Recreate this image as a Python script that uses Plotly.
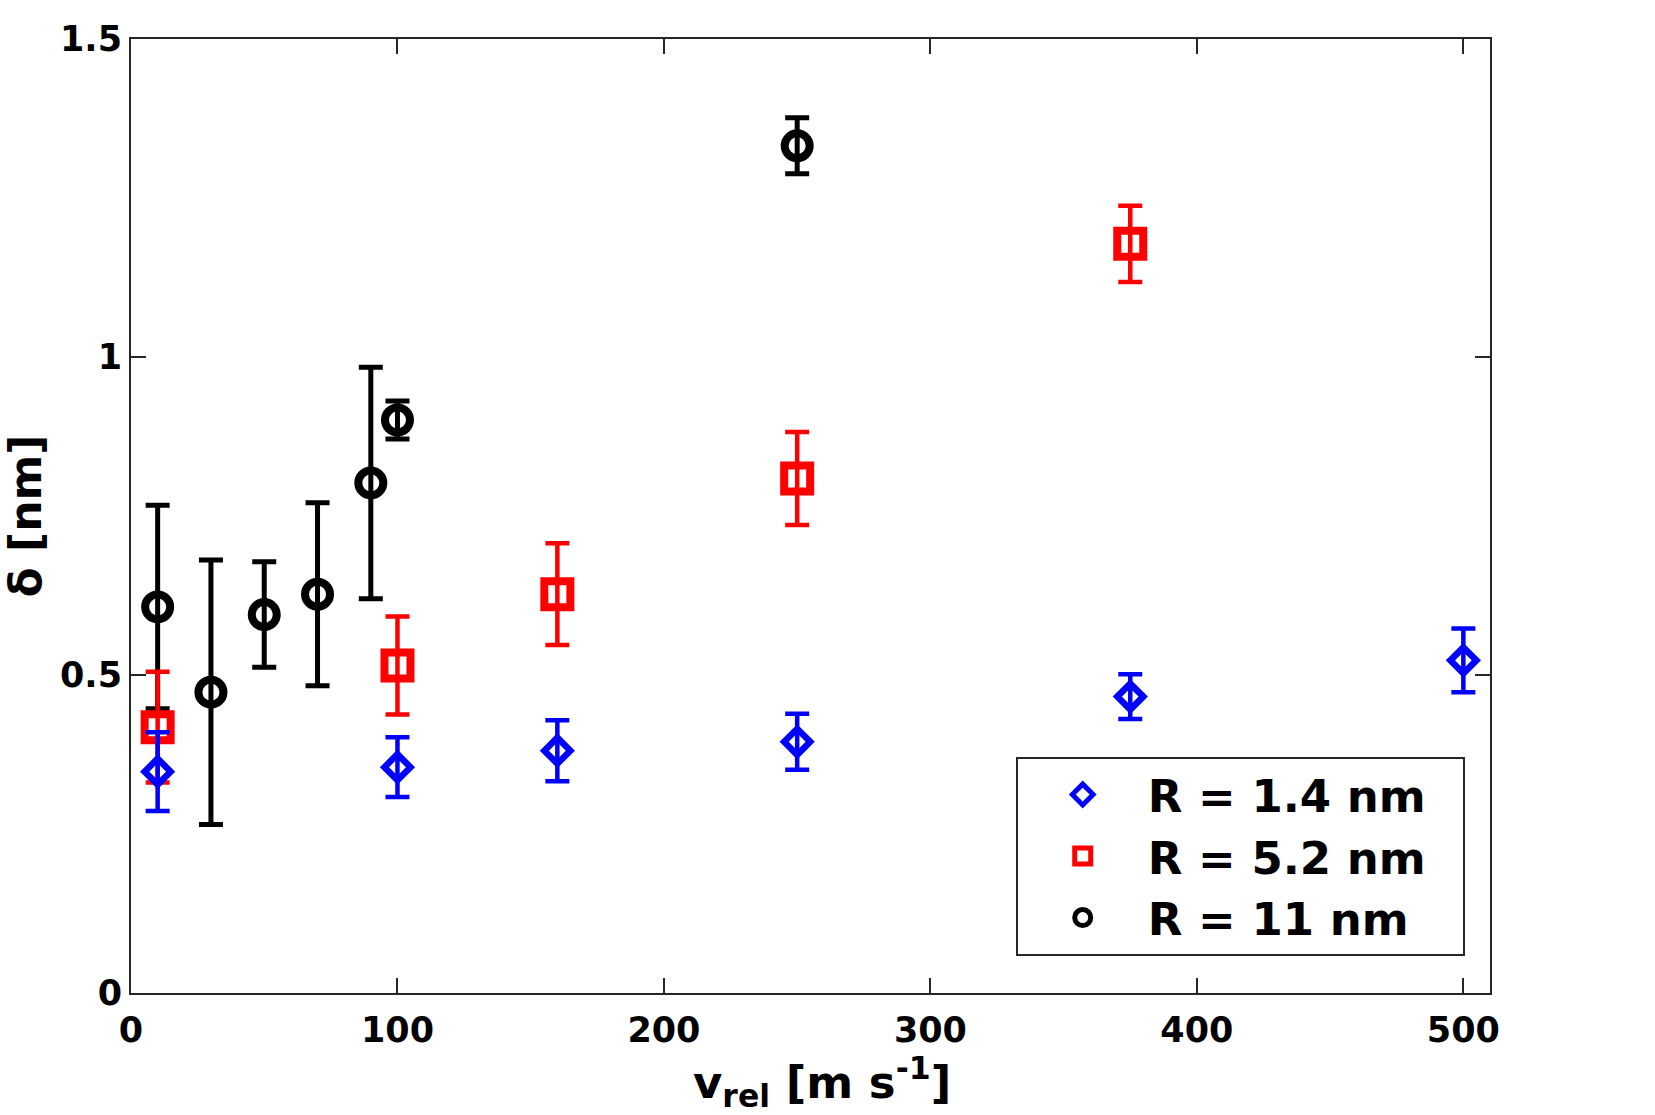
import plotly.graph_objects as go

# ---- data ----
blue_x = [10, 100, 160, 250, 375, 500]
blue_y = [0.348, 0.355, 0.381, 0.395, 0.466, 0.523]
blue_err = [0.062, 0.047, 0.048, 0.044, 0.035, 0.050]

red_x = [10, 100, 160, 250, 375]
red_y = [0.418, 0.515, 0.627, 0.809, 1.178]
red_err = [0.087, 0.077, 0.080, 0.073, 0.060]

black_x = [10, 30, 50, 70, 90, 100, 250]
black_y = [0.607, 0.473, 0.595, 0.627, 0.802, 0.901, 1.332]
black_err = [0.160, 0.208, 0.083, 0.144, 0.182, 0.030, 0.044]

names = ["R = 1.4 nm", "R = 5.2 nm", "R = 11 nm"]
x_ticks = [0, 100, 200, 300, 400, 500]
y_ticks = [0, 0.5, 1, 1.5]
y_tick_labels = ["0", "0.5", "1", "1.5"]
x_title = "v<sub>rel</sub> [m s<sup>-1</sup>]"
y_title = "δ [nm]"

FONT = "DejaVu Sans"
AX = "#262626"
PAD = "\u00a0\u00a0"

fig = go.Figure()

# drawing order bottom->top: black, red, blue (legend reversed)
fig.add_trace(go.Scatter(
    x=black_x, y=black_y, mode="markers", name=names[2] + PAD,
    marker=dict(symbol="circle-open", size=25, color="black",
                line=dict(width=8, color="black")),
    error_y=dict(type="data", array=black_err, visible=True,
                 color="black", thickness=5, width=12),
))
fig.add_trace(go.Scatter(
    x=red_x, y=red_y, mode="markers", name=names[1] + PAD,
    marker=dict(symbol="square-open", size=26, color="#FF0000",
                line=dict(width=8, color="#FF0000")),
    error_y=dict(type="data", array=red_err, visible=True,
                 color="#FF0000", thickness=4.5, width=12),
))
fig.add_trace(go.Scatter(
    x=blue_x, y=blue_y, mode="markers", name=names[0] + PAD,
    marker=dict(symbol="diamond-open", size=20, color="#0000FF",
                line=dict(width=6.5, color="#0000FF")),
    error_y=dict(type="data", array=blue_err, visible=True,
                 color="#0000FF", thickness=4.5, width=12),
))

fig.update_layout(
    width=1655, height=1115,
    margin=dict(l=131, r=165, t=39, b=122),
    paper_bgcolor="white", plot_bgcolor="white",
    font=dict(family=FONT, size=35, color="black", weight="bold"),
    showlegend=True,
    legend=dict(
        traceorder="reversed",
        x=0.651, xanchor="left", y=0.039, yanchor="bottom",
        bgcolor="white", bordercolor=AX, borderwidth=2,
        font=dict(family=FONT, size=45, color="black", weight="bold"),
        itemsizing="trace", itemwidth=120,
    ),
    xaxis=dict(
        range=[0, 510], tickvals=x_ticks, ticktext=[str(v) for v in x_ticks],
        ticks="inside", ticklen=15, tickwidth=1.5, tickcolor=AX,
        showline=True, linecolor=AX, linewidth=2, mirror="ticks",
        showgrid=False, zeroline=False, automargin=False,
        ticklabelstandoff=5,
        tickfont=dict(family=FONT, size=35, color="black", weight="bold"),
    ),
    yaxis=dict(
        range=[0, 1.5], tickvals=y_ticks, ticktext=y_tick_labels,
        ticks="inside", ticklen=15, tickwidth=1.5, tickcolor=AX,
        showline=True, linecolor=AX, linewidth=2, mirror="ticks",
        showgrid=False, zeroline=False, automargin=False,
        tickfont=dict(family=FONT, size=35, color="black", weight="bold"),
        title=dict(text=y_title, standoff=8,
                   font=dict(family=FONT, size=44, color="black", weight="bold")),
    ),
    annotations=[dict(
        text=x_title, xref="paper", yref="paper",
        x=0.5085, y=-0.093, xanchor="center", yanchor="middle",
        showarrow=False,
        font=dict(family=FONT, size=45, color="black", weight="bold"),
    )],
)

fig.write_html("out.html")
